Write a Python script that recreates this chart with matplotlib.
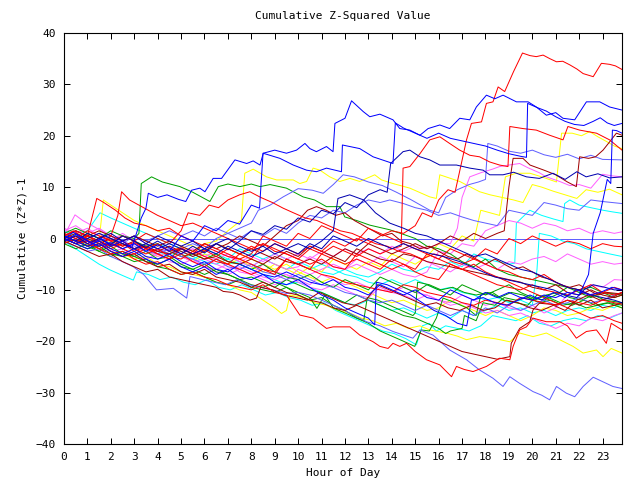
import matplotlib
matplotlib.use("Agg")
import matplotlib.pyplot as plt

# colours
RED = "#ff0000"
DRED = "#a00000"
GREEN = "#00a000"
BLUE = "#0000ff"
NAVY = "#0000b0"
SLATE = "#6060ff"
MAG = "#ff60ff"
CYAN = "#00ffff"
YEL = "#ffff00"

X_TICKS = list(range(0, 24))
Y_TICKS = list(range(-40, 41, 10))

# each series: (hour, cumulative value) vertices
red_top = [(0, 0.5), (0.4, 1.5), (0.8, 0.3), (1.2, -0.8), (1.6, 0.5), (2.0, -0.5), (2.5, -1.5), (3.0, -0.8),
           (3.5, -2.0), (4.0, -1.0), (4.5, -2.5), (5.0, -1.8), (5.5, -3.0), (6.0, -2.2), (6.5, -3.5), (7.0, -2.0),
           (7.5, -3.0), (8.0, -1.5), (8.5, -2.5), (9.0, -1.0), (9.5, -2.0), (10.0, -3.0), (10.5, -1.5), (11.0, -2.5),
           (11.5, -0.5), (12.0, -1.5), (12.5, 0.0), (13.0, -1.0), (13.5, 0.5), (14.0, 1.5), (14.5, 1.0), (15.0, 2.5),
           (15.3, 5.0), (15.7, 4.2), (16.0, 7.5), (16.4, 9.5), (16.7, 9.0), (16.97, 14.6), (17.19, 19.2), (17.4, 22.4),
           (17.83, 22.7), (18.04, 26.3), (18.32, 26.6), (18.54, 29.5), (18.82, 28.6), (19.2, 32.5), (19.58, 36.1),
           (19.9, 35.6), (20.17, 35.4), (20.46, 35.7), (20.75, 35.0), (21.03, 34.4), (21.3, 34.5), (21.6, 33.8),
           (21.9, 33.0), (22.17, 32.1), (22.6, 31.5), (22.95, 34.1), (23.3, 33.9), (23.55, 33.6), (23.83, 32.9)]
blue_top = [(0, 0.0), (0.4, 1.2), (0.8, 0.2), (1.2, -1.0), (1.6, 0.0), (2.0, -1.5), (2.5, -0.5), (2.9, -1.8),
            (3.3, 4.0), (3.5, 5.9), (3.6, 8.8), (4.0, 8.0), (4.4, 8.5), (4.9, 7.6), (5.2, 7.2), (5.45, 9.4),
            (5.8, 9.8), (6.02, 9.1), (6.37, 11.7), (6.73, 11.7), (7.3, 15.3), (7.8, 14.6), (8.08, 15.1), (8.37, 14.3),
            (8.51, 16.6), (9.0, 17.2), (9.5, 16.6), (9.93, 17.2), (10.29, 18.5), (10.5, 17.5), (10.78, 16.9),
            (11.21, 17.9), (11.49, 16.9), (11.57, 22.4), (12.0, 23.4), (12.28, 26.8), (12.78, 24.7), (13.06, 23.7),
            (13.49, 24.2), (14.05, 23.1), (14.34, 21.4), (14.77, 21.1), (15.2, 20.1), (15.55, 21.4), (16.05, 22.1),
            (16.47, 21.4), (16.9, 23.4), (17.33, 23.1), (17.61, 25.6), (18.04, 27.9), (18.4, 27.2), (18.75, 27.9),
            (19.32, 26.6), (19.82, 26.6), (20.17, 25.6), (20.6, 24.0), (21.0, 24.5), (21.31, 23.4), (21.81, 23.1),
            (22.31, 26.6), (22.88, 26.6), (23.3, 25.6), (23.83, 25.0)]
blue_2 = [(0, -0.5), (0.5, 0.8), (1.0, -0.5), (1.5, -1.5), (2.0, -0.8), (2.5, -2.0), (3.0, -1.0), (3.5, -2.5),
          (4.0, -1.2), (4.5, -2.5), (5.0, 0.5), (5.5, -0.5), (6.0, 2.5), (6.5, 1.5), (7.0, 3.5), (7.5, 2.8),
          (8.0, 6.5), (8.35, 5.9), (8.5, 16.6), (8.79, 16.2), (9.22, 15.6), (9.79, 14.3), (10.36, 13.3),
          (10.78, 13.0), (11.21, 13.7), (11.85, 13.0), (11.89, 18.2), (12.63, 17.5), (13.2, 15.9), (14.05, 14.6),
          (14.15, 22.5), (14.5, 21.5), (15.0, 20.5), (15.5, 19.5), (16.0, 20.5), (16.5, 19.5), (17.0, 19.0),
          (17.5, 18.5), (18.0, 18.0), (18.5, 17.2), (19.0, 16.5), (19.5, 16.0), (19.75, 15.8), (19.8, 26.3),
          (20.2, 25.5), (20.6, 24.8), (21.0, 23.7), (21.4, 22.8), (21.8, 22.2), (22.2, 22.0), (22.6, 22.8),
          (22.9, 23.5), (23.2, 22.5), (23.5, 22.0), (23.83, 22.4)]
navy_1 = [(0, 0.5), (0.5, -0.5), (1.0, 1.0), (1.5, 0.0), (2.0, -1.2), (2.5, 0.5), (3.0, -0.5), (3.5, -1.8),
          (4.0, -0.5), (4.5, -1.8), (5.0, -3.0), (5.5, -1.5), (6.0, -2.8), (6.5, -1.0), (7.0, -2.2), (7.5, -0.5),
          (8.0, 1.5), (8.5, 0.8), (9.0, 2.5), (9.5, 1.8), (10.0, 4.0), (10.5, 3.2), (11.0, 5.5), (11.5, 4.8),
          (12.0, 7.0), (12.5, 6.0), (13.0, 8.5), (13.5, 9.5), (13.8, 9.0), (13.95, 14.6), (14.48, 16.9),
          (14.77, 17.2), (15.2, 15.9), (15.62, 15.3), (16.05, 14.3), (16.76, 14.3), (17.33, 13.7), (17.9, 13.3),
          (18.18, 12.4), (18.75, 12.4), (19.2, 12.9), (19.75, 12.0), (20.3, 11.7), (20.88, 12.7), (21.4, 11.5),
          (21.9, 13.0), (22.3, 12.0), (22.8, 12.6), (23.3, 11.8), (23.83, 12.0)]
navy_2 = [(0, 0.0), (0.5, -1.0), (1.0, 0.0), (1.5, 1.0), (2.0, 0.0), (2.5, -1.0), (3.0, -2.0), (3.5, -1.0),
          (4.0, -2.0), (4.5, -1.0), (5.0, -2.0), (5.5, -3.0), (6.0, -2.0), (6.5, -3.0), (7.0, -1.5), (7.5, -2.5),
          (8.0, -3.5), (8.5, -2.5), (9.0, -1.0), (9.5, -2.0), (10.0, -1.0), (10.5, -2.0), (11.0, -0.5), (11.5, 1.5),
          (11.7, 7.8), (12.2, 8.5), (12.8, 7.5), (13.3, 5.0), (13.91, 3.0), (14.5, 2.0), (15.0, 1.0), (15.5, 0.5),
          (16.0, -0.5), (16.5, -1.5), (17.0, -2.5), (17.5, -3.5), (18.0, -3.0), (18.5, -4.0), (19.0, -5.0),
          (19.5, -6.0), (20.0, -6.5), (20.5, -7.5), (21.0, -8.5), (21.5, -9.5), (22.0, -10.0), (22.5, -11.0),
          (23.0, -11.5), (23.5, -12.0), (23.83, -12.5)]
navy_3 = [(0, -0.5), (0.5, 0.5), (1.0, -1.0), (1.5, 0.0), (2.0, 1.0), (2.5, -0.5), (3.0, 0.5), (3.5, -1.0),
          (4.0, 0.5), (4.5, -0.5), (5.0, -1.5), (5.5, -0.5), (6.0, -2.0), (6.5, -1.0), (7.0, 0.0), (7.5, -1.5),
          (8.0, -2.5), (8.5, -1.5), (9.0, -3.0), (9.5, -2.0), (10.0, -3.0), (10.5, -1.0), (11.0, -2.0), (11.5, 0.5),
          (12.0, -0.5), (12.5, -1.5), (13.0, 0.0), (13.5, -1.0), (14.0, -2.0), (14.5, -1.0), (15.0, -2.0),
          (15.62, -2.9), (16.2, -3.5), (16.9, -4.5), (17.4, -5.5), (17.9, -6.5), (18.4, -7.5), (18.9, -8.0),
          (19.4, -8.5), (19.9, -9.0), (20.4, -9.5), (20.9, -10.0), (21.4, -11.0), (21.9, -11.5), (22.2, -10.0),
          (22.6, -9.0), (23.1, -9.5), (23.5, -10.0), (23.83, -10.0)]
blue_low = [(0, 0.0), (0.5, -1.0), (1.0, -2.0), (1.5, -1.0), (2.0, -2.5), (2.5, -3.5), (3.0, -2.5), (3.5, -4.0),
            (4.0, -5.0), (4.5, -4.0), (5.0, -5.5), (5.5, -6.5), (6.0, -5.5), (6.5, -7.0), (7.0, -6.0), (7.5, -7.5),
            (8.0, -8.0), (8.5, -7.0), (9.0, -8.5), (9.5, -9.0), (10.0, -8.0), (10.5, -9.5), (11.0, -11.0),
            (11.5, -12.0), (12.0, -13.5), (12.5, -14.5), (13.0, -15.5), (13.27, -16.8), (13.34, -8.5),
            (13.8, -9.0), (14.3, -10.0), (14.8, -11.0), (15.3, -12.5), (15.8, -14.0), (16.3, -15.0), (16.8, -16.5),
            (17.2, -17.0), (17.4, -12.0), (17.9, -11.5), (18.4, -12.5), (18.9, -13.0), (19.4, -12.0), (19.9, -11.0),
            (20.4, -12.0), (20.9, -10.5), (21.4, -11.5), (21.9, -10.0), (22.4, -11.0), (22.9, -10.5), (23.4, -9.5),
            (23.83, -10.0)]
blue_jump = [(0, 0.5), (0.5, -0.5), (1.0, -1.5), (1.5, -0.5), (2.0, -2.0), (2.5, -3.0), (3.0, -2.0), (3.5, -3.5),
             (4.0, -4.0), (4.5, -3.0), (5.0, -4.5), (5.5, -5.5), (6.0, -4.5), (6.5, -6.0), (7.0, -6.5), (7.5, -5.0),
             (8.0, -6.0), (8.5, -7.0), (9.0, -7.5), (9.5, -6.5), (10.0, -7.5), (10.5, -8.5), (11.0, -9.0),
             (11.5, -8.0), (12.0, -9.5), (12.5, -10.0), (13.0, -11.0), (13.5, -9.0), (14.0, -10.0), (14.5, -11.0),
             (15.0, -10.0), (15.5, -11.5), (16.0, -12.0), (16.5, -10.0), (17.0, -11.0), (17.5, -12.0), (18.0, -10.5),
             (18.5, -11.5), (19.0, -10.5), (19.5, -11.5), (20.0, -12.0), (20.5, -11.0), (21.0, -11.5), (21.5, -10.5),
             (22.0, -11.0), (22.4, -7.0), (22.6, 1.0), (22.9, 5.0), (23.2, 11.5), (23.35, 10.7), (23.42, 21.1),
             (23.6, 21.0), (23.83, 20.5)]
red_b = [(0, 0.0), (0.5, -1.0), (1.0, 0.5), (1.5, -0.5), (2.0, -1.5), (2.5, -0.5), (3.0, -2.0), (3.5, -3.0),
         (4.0, -2.0), (4.5, -3.5), (5.0, -4.0), (5.5, -2.5), (6.0, -3.5), (6.5, -4.5), (7.0, -5.0), (7.5, -3.0),
         (8.0, -4.0), (8.5, -1.0), (9.0, -2.0), (9.5, -3.0), (10.0, -4.0), (10.5, -2.0), (11.0, -3.0), (11.5, -1.5),
         (12.0, -2.5), (12.5, -3.5), (13.0, -2.0), (13.5, -3.0), (14.0, -2.0), (14.4, -1.5), (14.48, 13.7),
         (14.77, 14.0), (15.2, 16.5), (15.62, 19.2), (16.05, 19.8), (16.47, 18.5), (16.9, 17.2), (17.33, 16.2),
         (17.75, 15.9), (18.18, 14.9), (18.6, 14.3), (18.96, 14.0), (19.04, 21.8), (19.6, 21.4), (20.17, 21.1),
         (20.74, 20.1), (21.31, 19.2), (21.52, 21.8), (22.02, 21.1), (22.74, 20.5), (23.3, 19.2), (23.83, 17.2)]
red_early1 = [(0, 0.5), (0.5, 1.5), (1.0, 0.5), (1.4, 7.8), (1.7, 7.0), (2.2, 5.5), (2.6, 4.0), (3.0, 3.0),
              (3.5, 2.5), (4.0, 1.5), (4.5, 2.0), (5.0, 0.5), (5.5, -0.5), (6.0, -1.5), (6.5, -2.5), (7.0, -3.5),
              (7.5, -4.0), (8.0, -5.0), (8.5, -6.0), (9.0, -6.5), (9.5, -4.0), (10.0, -5.0), (10.5, -6.0),
              (11.0, -7.0), (11.5, -7.5), (12.0, -8.5), (12.5, -9.0), (13.0, -9.5), (13.5, -10.0), (14.0, -10.5),
              (14.5, -9.0), (15.0, -9.5), (15.5, -10.5), (16.0, -11.0), (16.5, -11.5), (17.0, -12.5), (17.5, -13.0),
              (18.0, -12.0), (18.5, -12.5), (19.0, -13.0), (19.5, -11.5), (20.0, -12.0), (20.5, -12.5), (21.0, -13.0),
              (21.5, -12.0), (22.0, -12.5), (22.5, -13.0), (23.0, -12.0), (23.5, -12.5), (23.83, -12.8)]
red_early2 = [(0, -0.5), (0.5, 0.5), (1.0, -0.5), (1.5, -1.5), (2.0, 0.5), (2.3, 4.5), (2.46, 9.1), (2.8, 7.5),
              (3.2, 6.5), (3.6, 5.5), (4.0, 4.5), (4.5, 3.5), (5.0, 2.5), (5.5, 3.0), (6.0, 2.0), (6.5, 1.0),
              (7.0, 0.0), (7.5, -1.0), (8.0, -2.0), (8.5, -1.0), (9.0, -2.5), (9.5, -3.0), (10.0, -4.0), (10.5, -5.0),
              (11.0, -4.0), (11.5, -5.5), (12.0, -6.0), (12.5, -3.0), (13.0, -4.0), (13.5, -5.0), (14.0, -6.0),
              (14.5, -5.0), (15.0, -6.5), (15.5, -7.5), (16.0, -8.0), (16.5, -5.0), (17.0, -6.0), (17.5, -7.0),
              (18.0, -8.0), (18.5, -9.0), (19.0, -9.5), (19.5, -10.0), (20.0, -9.0), (20.5, -10.0), (21.0, -10.5),
              (21.5, -11.0), (22.0, -10.0), (22.5, -11.0), (23.0, -10.5), (23.5, -9.5), (23.83, -10.0)]
red_mid = [(0, 1.0), (0.5, 0.0), (1.0, 1.5), (1.5, 0.5), (2.0, -0.5), (2.5, 0.5), (3.0, -0.5), (3.5, 1.0),
           (4.0, 0.0), (4.5, -1.0), (5.0, 1.5), (5.3, 5.0), (5.8, 4.5), (6.2, 6.5), (6.6, 6.0), (7.0, 7.5),
           (7.5, 8.5), (7.94, 9.1), (8.4, 8.0), (8.9, 7.0), (9.36, 5.9), (9.8, 5.0), (10.3, 4.0), (10.8, 3.5),
           (11.3, 2.5), (11.8, 1.5), (12.3, 1.0), (12.8, 0.0), (13.3, -1.0), (13.8, -1.5), (14.3, -2.5), (14.8, -3.0),
           (15.3, -4.0), (15.8, -3.0), (16.2, -3.5), (16.6, -4.5), (17.0, -5.0), (17.5, -4.0), (18.0, -5.0),
           (18.5, -6.0), (19.0, -6.5), (19.5, -7.5), (20.0, -8.0), (20.5, -7.0), (21.0, -8.5), (21.5, -9.5),
           (22.0, -10.0), (22.5, -9.0), (23.0, -10.5), (23.5, -11.0), (23.83, -10.5)]
red_x = [(0, 0.5), (0.5, -0.5), (1.0, 0.5), (1.5, -1.0), (2.0, -2.0), (2.5, -1.0), (3.0, -2.5), (3.5, -1.5),
         (4.0, -3.0), (4.5, -4.0), (5.0, -3.0), (5.5, -4.5), (6.0, -5.5), (6.5, -4.0), (7.0, -5.0), (7.5, -6.0),
         (8.0, -7.0), (8.5, -6.0), (9.0, -7.0), (9.5, -4.0), (10.0, -5.0), (10.5, -6.0), (11.0, -3.0), (11.5, -4.0),
         (12.0, -5.0), (12.5, -4.0), (13.0, -5.0), (13.5, -6.0), (14.0, -4.0), (14.5, -5.0), (15.0, -6.0),
         (15.5, -3.0), (16.0, -4.0), (16.5, -2.0), (17.0, -3.0), (17.5, -4.0), (18.0, -2.0), (18.5, -3.0),
         (19.0, 0.0), (19.5, -1.0), (20.0, 0.5), (20.5, -0.5), (21.0, -1.5), (21.5, -0.5), (22.0, -1.0),
         (22.5, -2.0), (23.0, -1.0), (23.5, -1.5), (23.83, -1.6)]
red_9 = [(0, -1.0), (0.5, 0.0), (1.0, -1.0), (1.5, -2.0), (2.0, -1.0), (2.5, -2.0), (3.0, -3.0), (3.5, -2.0),
         (4.0, -3.0), (4.5, -4.0), (5.0, -2.0), (5.5, -3.0), (6.0, -1.0), (6.5, -2.0), (7.0, -3.0), (7.5, -4.0),
         (8.0, -3.0), (8.5, 0.5), (9.0, -0.5), (9.5, -1.5), (10.0, 1.0), (10.5, 0.0), (11.0, 2.5), (11.5, 1.5),
         (12.0, 0.5), (12.5, -0.5), (13.0, 2.0), (13.5, 1.0), (14.0, 0.0), (14.5, -1.0), (15.0, -2.0), (15.5, -3.0),
         (16.0, -4.0), (16.5, -5.0), (17.0, -6.0), (17.5, -5.0), (18.0, -6.5), (18.5, -7.5), (19.0, -8.5),
         (19.5, -9.5), (20.0, -10.5), (20.5, -11.5), (21.0, -12.5), (21.5, -13.5), (22.0, -14.5), (22.5, -15.5),
         (23.0, -15.0), (23.5, -16.0), (23.83, -16.5)]
red_low = [(0, 0.0), (0.5, -1.0), (1.0, -0.5), (1.5, -2.0), (2.0, -3.0), (2.5, -2.5), (3.0, -4.0), (3.5, -5.0),
           (4.0, -4.5), (4.5, -6.0), (5.0, -7.0), (5.5, -6.5), (6.0, -7.5), (6.5, -8.0), (7.0, -9.0), (7.5, -9.5),
           (8.0, -10.0), (8.5, -9.0), (9.0, -10.5), (9.5, -11.0), (10.07, -14.9), (10.64, -15.5), (11.21, -17.5),
           (11.49, -17.2), (12.21, -17.2), (12.63, -18.8), (13.2, -20.1), (13.49, -21.0), (13.84, -21.4),
           (14.05, -20.4), (14.34, -21.0), (14.63, -20.4), (15.0, -22.0), (15.48, -23.6), (16.05, -24.6),
           (16.55, -26.9), (16.76, -24.9), (17.1, -25.5), (17.47, -25.9), (18.04, -24.9), (18.6, -23.3),
           (19.04, -23.6), (19.18, -21.0), (19.46, -17.8), (19.75, -17.2), (20.03, -15.5), (20.6, -16.2),
           (21.17, -16.2), (21.5, -17.0), (21.88, -19.4), (22.31, -18.1), (22.74, -17.8), (23.16, -20.4),
           (23.37, -16.5), (23.83, -17.8)]
dred_rise = [(0, 0.5), (0.5, -0.5), (1.0, -1.5), (1.5, -1.0), (2.0, -2.5), (2.5, -3.5), (3.0, -3.0), (3.5, -4.5),
             (4.0, -5.5), (4.5, -5.0), (5.0, -6.5), (5.5, -7.0), (6.0, -6.0), (6.5, -7.5), (7.0, -8.0), (7.5, -8.5),
             (8.0, -9.5), (8.5, -8.5), (9.0, -9.5), (9.5, -10.5), (10.0, -11.0), (10.5, -12.0), (11.0, -12.5),
             (11.5, -13.5), (12.0, -14.0), (12.5, -13.0), (13.0, -14.0), (13.5, -15.0), (14.0, -16.0),
             (14.5, -17.0), (15.0, -18.0), (15.5, -19.0), (16.0, -20.0), (16.5, -21.0), (17.0, -22.0),
             (17.5, -22.5), (18.0, -23.0), (18.5, -23.5), (19.04, -23.0), (19.1, -20.4), (19.46, -17.5),
             (19.89, -16.2), (20.03, -13.9), (20.3, -12.6), (21.03, -12.9), (21.5, -12.0), (22.0, -13.0),
             (22.5, -12.0), (23.0, -13.5), (23.5, -13.0), (23.83, -12.5)]
dred_top = [(0, 0.0), (0.5, 1.0), (1.0, 0.0), (1.5, -1.0), (2.0, 0.0), (2.5, -1.5), (3.0, -0.5), (3.5, -2.0),
            (4.0, -2.5), (4.5, -1.5), (5.0, -2.5), (5.5, -3.5), (6.0, -2.5), (6.5, -1.0), (7.0, -2.0), (7.5, -3.0),
            (8.0, -2.0), (8.5, -3.0), (9.0, -4.0), (9.5, -2.5), (10.0, -3.5), (10.5, -1.5), (11.0, -2.5),
            (11.5, -3.5), (12.0, -2.0), (12.5, -3.0), (13.0, -1.0), (13.5, -2.0), (14.0, -3.0), (14.5, -2.0),
            (15.0, -1.0), (15.5, -2.0), (16.0, -1.0), (16.5, 0.5), (17.0, -0.5), (17.5, 1.0), (18.0, 0.0),
            (18.5, 1.0), (18.8, 1.5), (19.0, 10.0), (19.18, 15.6), (19.6, 15.6), (19.9, 14.3), (20.5, 13.3),
            (21.0, 12.4), (21.5, 11.0), (21.88, 10.1), (22.02, 15.9), (22.4, 15.6), (22.7, 15.9), (23.02, 17.2),
            (23.3, 18.8), (23.59, 20.5), (23.83, 20.1)]
dred_low = [(0, -0.5), (0.5, -1.5), (1.0, -2.5), (1.5, -3.5), (2.0, -3.0), (2.5, -4.5), (3.0, -5.5), (3.5, -6.5),
            (4.0, -6.0), (4.5, -7.5), (5.0, -8.0), (5.5, -8.5), (6.0, -9.0), (6.5, -9.5), (6.8, -10.3), (7.2, -10.5),
            (7.51, -11.0), (7.94, -12.0), (8.22, -11.6), (8.4, -9.5), (8.9, -10.0), (9.4, -11.0), (9.9, -11.5),
            (10.4, -12.0), (10.9, -10.5), (11.4, -11.5), (11.9, -12.5), (12.4, -13.0), (12.9, -12.0), (13.4, -9.0),
            (13.9, -10.0), (14.4, -11.0), (14.9, -12.0), (15.4, -13.0), (15.9, -12.5), (16.4, -13.5), (16.9, -14.0),
            (17.4, -13.0), (17.9, -14.0), (18.4, -13.5), (18.9, -12.0), (19.4, -12.5), (19.9, -13.5), (20.4, -14.0),
            (20.9, -13.0), (21.4, -14.0), (21.9, -12.0), (22.4, -11.0), (22.9, -12.0), (23.4, -11.5), (23.83, -10.5)]
dred_mid = [(0, 0.5), (0.5, 1.5), (1.0, 0.5), (1.5, -0.5), (2.0, -1.5), (2.5, -1.0), (3.0, -2.0), (3.5, -1.5),
            (4.0, -2.5), (4.5, -3.0), (5.0, -2.0), (5.5, -3.0), (6.0, -4.0), (6.5, -3.5), (7.0, -4.5), (7.5, -5.0),
            (8.0, -4.0), (8.5, -5.0), (9.0, -3.5), (9.5, -4.5), (10.0, -5.0), (10.5, -4.0), (11.0, -5.0), (11.5, -3.5),
            (12.0, -4.5), (12.5, -2.0), (13.0, -3.0), (13.5, -4.0), (14.0, -4.5), (14.5, -3.0), (15.0, -3.5),
            (15.5, -4.5), (16.0, -5.0), (16.5, -5.5), (17.0, -6.0), (17.5, -6.5), (18.0, -7.0), (18.5, -7.5),
            (19.0, -8.0), (19.5, -8.5), (20.0, -9.5), (20.5, -10.0), (21.0, -9.0), (21.5, -10.5), (22.0, -11.0),
            (22.5, -10.0), (23.0, -11.0), (23.5, -11.5), (23.83, -11.0)]
dred_hump = [(0, 0.0), (0.5, -0.5), (1.0, 0.5), (1.5, 1.5), (2.0, 0.5), (2.5, -0.5), (3.0, 0.5), (3.5, -0.5),
             (4.0, -1.5), (4.5, -0.5), (5.0, -1.5), (5.5, -2.5), (6.0, -1.0), (6.5, -2.0), (7.0, -1.0), (7.5, 0.5),
             (8.0, -0.5), (8.5, -1.5), (9.0, 0.5), (9.5, 2.5), (10.0, 3.5), (10.4, 5.5), (10.78, 6.2), (11.2, 5.5),
             (11.6, 4.5), (12.0, 5.0), (12.4, 3.5), (12.8, 2.5), (13.2, 1.5), (13.6, 0.5), (14.0, 1.0), (14.4, -0.5),
             (14.8, -1.0), (15.2, -2.0), (15.6, -1.5), (16.0, -2.5), (16.4, -3.5), (16.8, -4.0), (17.2, -3.0),
             (17.6, -4.0), (18.0, -5.0), (18.4, -4.0), (18.8, -5.0), (19.2, -6.0), (19.6, -5.5), (20.0, -6.5),
             (20.4, -7.5), (20.8, -8.0), (21.2, -9.0), (21.6, -9.5), (22.0, -9.0), (22.4, -10.0), (22.8, -11.0),
             (23.2, -10.5), (23.83, -10.8)]
green_top = [(0, 0.5), (0.5, -0.5), (1.0, 1.0), (1.5, 0.0), (2.0, -1.0), (2.5, 0.5), (3.0, 0.0), (3.2, 1.0),
             (3.3, 10.7), (3.74, 12.0), (4.2, 11.0), (4.95, 10.1), (5.5, 9.0), (6.23, 7.2), (6.59, 10.1), (7.0, 10.6),
             (7.51, 10.1), (8.0, 10.6), (8.37, 10.1), (8.8, 10.5), (9.5, 9.8), (10.21, 8.1), (10.7, 7.5),
             (11.21, 6.2), (11.78, 6.2), (11.99, 4.2), (12.5, 3.5), (13.06, 2.6), (13.91, 1.7), (14.5, 0.8),
             (15.0, 0.0), (15.5, -1.5), (16.0, -2.0), (16.5, -3.0), (17.0, -4.5), (17.5, -5.5), (18.0, -4.0),
             (18.5, -6.0), (19.0, -7.0), (19.5, -7.5), (20.0, -8.0), (21.0, -9.0), (22.0, -10.0), (22.5, -9.5),
             (23.0, -10.5), (23.83, -11.0)]
green_low = [(0, 0.0), (0.5, -1.0), (1.0, -2.0), (1.5, -1.5), (2.0, -3.0), (2.5, -3.5), (3.0, -4.5), (3.5, -4.0),
             (4.0, -5.5), (4.5, -6.0), (5.0, -7.0), (5.5, -6.5), (6.0, -7.5), (6.5, -8.5), (7.0, -9.0), (7.5, -8.0),
             (8.0, -9.5), (8.5, -10.0), (9.0, -10.5), (9.5, -9.5), (10.0, -11.0), (10.5, -12.0), (11.0, -11.5),
             (11.5, -13.0), (12.0, -14.0), (12.5, -15.5), (13.0, -16.5), (13.5, -18.0), (14.0, -19.0),
             (14.5, -20.0), (14.98, -21.0), (15.26, -17.8), (15.6, -18.0), (15.9, -15.5), (16.19, -11.6),
             (16.7, -12.5), (17.2, -13.5), (17.6, -15.0), (17.8, -11.0), (18.3, -10.5), (18.8, -12.0), (19.3, -12.5),
             (19.8, -13.0), (20.2, -11.0), (20.7, -11.5), (21.2, -12.5), (21.7, -13.0), (22.2, -12.0), (22.7, -13.0),
             (23.2, -12.5), (23.83, -13.5)]
green_2 = [(0, -1.0), (0.5, 0.0), (1.0, -1.5), (1.5, -2.5), (2.0, -1.5), (2.5, -3.0), (3.0, -3.5), (3.5, -2.5),
           (4.0, -4.0), (4.5, -3.5), (5.0, -5.0), (5.5, -6.0), (6.0, -5.0), (6.5, -6.5), (7.0, -7.0), (7.5, -8.0),
           (8.0, -7.5), (8.5, -8.5), (9.0, -9.5), (9.5, -8.0), (10.0, -9.0), (10.5, -10.0), (11.0, -10.5),
           (11.5, -11.5), (12.0, -12.5), (12.5, -11.0), (13.0, -12.0), (13.5, -13.0), (14.0, -14.0), (14.5, -15.0),
           (15.0, -15.5), (15.5, -16.5), (16.0, -17.5), (16.3, -18.5), (16.5, -18.0), (17.0, -17.5), (17.1, -15.0),
           (17.6, -16.0), (17.9, -12.5), (18.4, -13.0), (18.8, -11.5), (19.3, -12.0), (19.8, -11.5), (20.3, -12.5),
           (20.8, -12.0), (21.3, -13.0), (21.8, -12.5), (22.3, -13.5), (22.8, -13.0), (23.3, -12.5), (23.83, -13.0)]
green_3 = [(0, 1.0), (0.5, 2.0), (1.0, 1.0), (1.5, 0.0), (2.0, 1.5), (2.5, 0.5), (3.0, -0.5), (3.5, -1.5),
           (4.0, -1.0), (4.5, -2.5), (5.0, -3.5), (5.5, -3.0), (6.0, -4.0), (6.5, -3.0), (7.0, -4.5), (7.5, -5.0),
           (8.0, -6.0), (8.5, -5.0), (9.0, -6.5), (9.5, -7.5), (10.0, -8.0), (10.5, -7.0), (11.0, -8.5), (11.5, -9.5),
           (12.0, -8.0), (12.5, -9.0), (13.0, -10.0), (13.5, -7.5), (14.0, -8.5), (14.5, -9.5), (15.0, -10.5),
           (15.5, -9.0), (16.0, -10.0), (16.5, -11.0), (17.0, -9.0), (17.5, -10.0), (18.0, -11.0), (18.5, -10.0),
           (19.0, -9.0), (19.5, -10.5), (20.0, -11.5), (20.5, -12.0), (21.0, -11.0), (21.5, -9.5), (22.0, -10.5),
           (22.5, -11.5), (23.0, -10.5), (23.5, -11.5), (23.83, -11.0)]
green_4 = [(0, -1.0), (0.5, -2.0), (1.0, -1.0), (1.5, -2.5), (2.0, -3.5), (2.5, -2.5), (3.0, -3.5), (3.5, -4.5),
           (4.0, -5.0), (4.5, -4.0), (5.0, -5.5), (5.5, -6.0), (6.0, -7.0), (6.5, -6.0), (7.0, -7.0), (7.5, -8.0),
           (8.0, -9.0), (8.5, -9.5), (9.0, -8.5), (9.5, -9.5), (10.0, -10.5), (10.5, -11.5), (10.8, -13.6),
           (11.14, -11.0), (11.5, -13.5), (12.0, -14.5), (12.5, -15.5), (12.8, -16.0), (12.95, -11.5), (13.4, -12.0),
           (13.9, -13.0), (14.4, -14.0), (14.9, -15.0), (15.0, -14.5), (15.1, -8.5), (15.6, -9.0), (16.1, -10.0),
           (16.6, -9.5), (17.1, -10.5), (17.6, -11.0), (18.1, -10.5), (18.6, -11.5), (19.1, -10.5), (19.6, -11.0),
           (20.1, -12.0), (20.6, -11.0), (21.1, -10.5), (21.6, -11.5), (22.1, -12.0), (22.6, -11.0), (23.1, -12.0),
           (23.83, -12.5)]
yel_top = [(0, 0.0), (0.5, 1.0), (1.0, 0.0), (1.5, -1.0), (2.0, 0.0), (2.5, -1.0), (3.0, -2.0), (3.5, -1.0),
           (4.0, -2.0), (4.5, -3.0), (5.0, -1.5), (5.5, -2.5), (6.0, -1.0), (6.5, -0.5), (7.0, 1.5), (7.58, 3.6),
           (7.72, 12.7), (8.08, 13.5), (8.65, 12.0), (9.08, 11.4), (9.79, 11.4), (10.07, 10.7), (10.36, 11.1),
           (10.64, 13.7), (10.93, 13.3), (11.35, 12.0), (11.78, 11.1), (12.21, 11.7), (12.63, 11.1), (13.27, 12.4),
           (13.56, 11.4), (14.05, 10.7), (14.77, 9.8), (15.62, 8.1), (15.9, 7.8), (16.05, 12.4), (16.9, 11.1),
           (17.75, 9.1), (18.2, 8.5), (18.7, 8.0), (19.2, 7.5), (19.6, 7.0), (20.0, 10.5), (20.4, 10.0), (20.9, 9.2),
           (21.4, 8.5), (21.9, 7.8), (22.3, 9.5), (22.8, 9.0), (23.3, 9.6), (23.83, 8.5)]
yel_jump = [(0, -0.5), (0.5, 0.5), (1.0, -0.5), (1.5, -1.5), (2.0, -0.5), (2.5, -2.0), (3.0, -1.0), (3.5, -2.5),
            (4.0, -3.5), (4.5, -2.5), (5.0, -3.5), (5.5, -4.5), (6.0, -3.0), (6.5, -4.0), (7.0, -5.0), (7.5, -4.0),
            (8.0, -5.5), (8.5, -6.5), (9.0, -5.0), (9.5, -6.0), (10.0, -7.0), (10.5, -5.5), (11.0, -6.5),
            (11.5, -4.0), (12.0, -5.0), (12.5, -6.0), (13.0, -4.5), (13.5, -5.5), (14.0, -3.0), (14.5, -4.0),
            (15.0, -5.0), (15.5, -3.5), (16.0, -1.0), (16.5, -2.0), (17.0, 0.5), (17.5, -0.5), (17.8, 5.5),
            (18.2, 5.0), (18.6, 4.5), (18.85, 12.0), (19.3, 12.7), (19.9, 12.7), (20.4, 12.0), (21.03, 11.0),
            (21.25, 20.5), (21.7, 20.5), (22.1, 20.0), (22.45, 20.8), (22.8, 19.8), (23.2, 18.8), (23.5, 18.0),
            (23.83, 17.5)]
yel_mid = [(0, 0.0), (0.5, -1.0), (1.0, 0.5), (1.5, -0.5), (1.68, 7.5), (2.0, 6.5), (2.5, 5.0), (3.0, 3.5),
           (3.5, 2.5), (4.0, 1.5), (4.5, 0.5), (5.0, -0.5), (5.5, -1.5), (6.0, -2.5), (6.5, -1.0), (7.0, -2.0),
           (7.5, -3.0), (8.0, -4.0), (8.5, -5.0), (9.0, -6.0), (9.5, -5.0), (10.0, -6.5), (10.5, -7.5), (11.0, -8.5),
           (11.5, -7.5), (12.0, -8.5), (12.5, -9.5), (13.0, -10.5), (13.5, -11.5), (14.0, -12.5), (14.5, -12.0),
           (15.0, -13.0), (15.5, -14.0), (16.0, -13.5), (16.5, -12.0), (17.0, -13.0), (17.5, -14.0), (18.0, -15.0),
           (18.5, -14.0), (19.0, -15.0), (19.5, -16.0), (20.0, -15.0), (20.5, -13.5), (21.0, -14.0), (21.5, -15.0),
           (22.0, -14.5), (22.5, -13.5), (23.0, -14.0), (23.5, -13.0), (23.83, -13.5)]
yel_low = [(0, 0.5), (0.5, -0.5), (1.0, -1.5), (1.5, -1.0), (2.0, -2.5), (2.5, -3.0), (3.0, -4.0), (3.5, -3.5),
           (4.0, -5.0), (4.5, -5.5), (5.0, -6.5), (5.5, -7.0), (6.0, -7.5), (6.5, -8.5), (7.0, -9.0), (7.5, -10.0),
           (8.0, -10.5), (8.5, -12.0), (9.0, -13.5), (9.29, -14.6), (9.5, -14.0), (9.65, -11.0), (10.2, -11.5),
           (10.7, -12.5), (11.2, -13.0), (11.7, -14.0), (12.2, -14.5), (12.7, -15.5), (13.2, -16.0), (13.7, -17.0),
           (14.2, -16.5), (14.7, -17.5), (15.2, -17.0), (15.62, -17.8), (16.33, -18.4), (16.8, -19.0),
           (17.19, -19.7), (17.75, -19.1), (18.4, -19.5), (19.04, -20.1), (19.46, -18.4), (20.03, -19.1),
           (20.6, -18.4), (21.17, -19.7), (21.74, -21.0), (22.17, -22.3), (22.74, -21.7), (23.02, -23.0),
           (23.37, -21.4), (23.83, -22.3)]
slate_low = [(0, -0.5), (0.5, -1.5), (1.0, -2.5), (1.5, -2.0), (2.0, -3.5), (2.5, -4.5), (2.96, -5.5), (3.4, -7.0),
             (3.95, -10.0), (4.67, -9.7), (5.24, -11.6), (5.38, -7.4), (5.9, -8.0), (6.4, -8.5), (6.9, -9.0),
             (7.4, -8.0), (7.9, -9.0), (8.4, -9.5), (8.9, -10.0), (9.5, -10.7), (10.0, -10.5), (10.5, -11.0),
             (11.0, -12.0), (11.5, -13.0), (11.92, -13.9), (12.4, -15.0), (12.92, -16.2), (13.5, -17.0),
             (14.05, -18.1), (14.5, -18.8), (14.9, -19.4), (15.2, -17.8), (15.76, -18.8), (16.47, -21.7),
             (17.19, -23.6), (17.75, -25.6), (18.32, -27.2), (18.75, -28.8), (19.04, -26.9), (19.46, -28.2),
             (20.03, -29.8), (20.4, -30.5), (20.74, -31.4), (21.03, -28.8), (21.45, -30.1), (21.81, -30.8),
             (22.17, -28.8), (22.6, -27.0), (23.02, -27.9), (23.44, -28.8), (23.83, -29.2)]
slate_up = [(0, 0.5), (0.5, 1.5), (1.0, 0.5), (1.5, -0.5), (2.0, 0.5), (2.5, -1.0), (3.0, -2.0), (3.5, -1.0),
            (4.0, -2.0), (4.5, -3.0), (5.0, -2.0), (5.5, -1.0), (6.0, -2.0), (6.5, 0.0), (7.0, 1.0), (7.5, 2.0),
            (8.0, 3.0), (8.3, 5.5), (8.8, 6.5), (9.36, 8.1), (10.0, 9.7), (10.6, 9.4), (11.07, 8.8), (11.5, 10.5),
            (11.92, 12.4), (12.4, 12.0), (13.0, 11.0), (13.6, 10.3), (14.2, 9.0), (14.8, 7.6), (15.62, 5.5),
            (16.0, 5.0), (16.3, 8.0), (16.8, 9.5), (17.3, 10.5), (17.7, 11.0), (18.0, 11.5), (18.1, 18.5),
            (18.5, 18.0), (19.0, 17.0), (19.5, 16.6), (20.0, 17.2), (20.5, 16.3), (21.0, 15.8), (21.5, 16.4),
            (22.0, 15.5), (22.5, 16.2), (23.0, 15.4), (23.83, 15.3)]
slate_mid = [(0, 0.0), (0.5, -1.0), (1.0, 0.0), (1.5, 1.0), (2.0, 0.0), (2.5, -1.0), (3.0, 0.5), (3.5, -0.5),
             (4.0, 0.5), (4.5, 1.5), (5.0, 0.5), (5.5, 1.5), (6.0, 0.5), (6.5, 2.0), (7.0, 1.0), (7.5, 0.0),
             (8.0, 1.5), (8.5, 0.5), (9.0, 2.0), (9.5, 1.0), (10.0, 3.0), (10.5, 4.5), (11.0, 4.0), (11.5, 5.5),
             (12.0, 5.0), (12.5, 6.5), (13.0, 7.5), (13.5, 7.0), (13.91, 7.5), (14.5, 6.8), (15.0, 6.0), (15.5, 5.5),
             (16.0, 4.5), (16.5, 5.0), (17.0, 4.2), (17.5, 3.5), (18.0, 3.0), (18.5, 2.5), (19.0, 5.5), (19.5, 5.0),
             (20.0, 4.5), (20.5, 7.0), (21.0, 6.5), (21.5, 5.8), (22.0, 5.5), (22.5, 7.5), (23.0, 7.2),
             (23.83, 6.8)]
slate_3 = [(0, 1.0), (0.5, 0.0), (1.0, -1.0), (1.5, 0.0), (2.0, -1.0), (2.5, -2.0), (3.0, -1.0), (3.5, -2.5),
           (4.0, -3.0), (4.5, -2.0), (5.0, -3.5), (5.5, -4.0), (6.0, -5.0), (6.5, -4.0), (7.0, -5.5), (7.5, -6.0),
           (8.0, -5.0), (8.5, -6.5), (9.0, -7.0), (9.5, -8.0), (10.0, -7.0), (10.5, -8.0), (11.0, -9.0),
           (11.5, -9.5), (12.0, -10.5), (12.5, -11.0), (13.0, -12.0), (13.5, -12.5), (14.0, -12.0), (14.5, -13.0),
           (15.0, -14.0), (15.5, -13.0), (16.0, -14.0), (16.5, -15.0), (17.0, -14.0), (17.5, -15.0), (18.0, -13.5),
           (18.5, -14.5), (19.0, -13.0), (19.5, -14.0), (20.0, -13.0), (20.5, -12.0), (21.0, -13.0), (21.5, -12.5),
           (22.0, -11.5), (22.5, -12.5), (23.0, -12.0), (23.5, -11.0), (23.83, -10.5)]
mag_1 = [(0, 1.0), (0.5, 0.0), (1.0, -1.0), (1.5, 0.0), (2.0, -1.0), (2.5, -2.0), (3.0, -1.0), (3.5, -2.0),
         (4.0, -3.0), (4.5, -2.0), (5.0, -3.0), (5.5, -2.0), (6.0, -3.5), (6.5, -2.5), (7.0, -3.5), (7.5, -4.5),
         (8.0, -3.5), (8.5, -4.5), (9.0, -3.0), (9.5, -4.0), (10.0, -3.0), (10.5, -4.0), (11.0, -2.5), (11.5, -3.5),
         (12.0, -2.0), (12.5, -3.0), (13.0, -2.0), (13.5, -3.0), (14.0, -1.5), (14.5, -2.5), (15.0, -1.5),
         (15.5, -2.0), (16.0, -1.0), (16.5, -1.0), (16.8, 2.0), (17.0, 8.0), (17.33, 12.0), (17.8, 12.8),
         (18.3, 13.5), (18.6, 14.0), (19.0, 14.3), (19.46, 14.6), (19.8, 13.8), (20.3, 12.8), (20.6, 12.0),
         (21.17, 11.1), (21.6, 10.3), (22.0, 10.5), (22.5, 9.8), (23.0, 12.5), (23.4, 12.2), (23.83, 12.0)]
mag_2 = [(0, 1.5), (0.5, 2.5), (1.0, 1.0), (1.5, 2.0), (2.0, 0.5), (2.5, -0.5), (3.0, 0.5), (3.5, -1.0),
         (4.0, -2.0), (4.5, -1.5), (5.0, -3.0), (5.5, -2.0), (6.0, -3.5), (6.5, -4.0), (7.0, -3.0), (7.5, -4.5),
         (8.0, -5.5), (8.5, -4.0), (9.0, -5.0), (9.5, -6.0), (10.0, -5.5), (10.5, -3.5), (11.0, -4.5), (11.5, -5.5),
         (12.0, -6.0), (12.5, -5.0), (13.0, -6.0), (13.5, -7.0), (14.0, -6.0), (14.5, -7.0), (15.0, -7.5),
         (15.5, -6.5), (16.0, -2.5), (16.5, -3.0), (17.0, -1.0), (17.5, -1.5), (18.0, 1.5), (18.5, 2.5),
         (19.0, 3.5), (19.5, 3.0), (20.0, 2.0), (20.5, 3.0), (21.0, 2.5), (21.5, 1.5), (22.0, 2.0), (22.5, 1.0),
         (23.0, 1.5), (23.5, 1.0), (23.83, 1.3)]
mag_3 = [(0, 0.0), (0.5, -1.0), (1.0, -0.5), (1.5, -2.0), (2.0, -2.5), (2.5, -2.0), (3.0, -3.5), (3.5, -4.0),
         (4.0, -3.0), (4.5, -4.5), (5.0, -5.0), (5.5, -4.0), (6.0, -5.5), (6.5, -6.0), (7.0, -5.0), (7.5, -6.5),
         (8.0, -7.0), (8.5, -5.0), (9.0, -6.5), (9.5, -7.0), (10.0, -8.0), (10.5, -9.0), (11.0, -7.0), (11.5, -8.0),
         (12.0, -9.0), (12.5, -8.5), (13.0, -9.5), (13.5, -10.0), (14.0, -10.5), (14.5, -9.5), (15.0, -10.5),
         (15.5, -11.0), (16.0, -12.0), (16.5, -12.5), (17.0, -11.0), (17.5, -12.0), (18.0, -13.0), (18.5, -12.5),
         (19.0, -13.5), (19.5, -14.0), (20.0, -13.0), (20.5, -14.5), (21.0, -13.5), (21.5, -11.0), (22.0, -10.0),
         (22.5, -9.0), (23.0, -9.5), (23.5, -8.0), (23.83, -8.1)]
mag_4 = [(0, 2.0), (0.5, 1.0), (1.0, 2.0), (1.5, 0.5), (2.0, -0.5), (2.5, 1.0), (3.0, -0.5), (3.5, -1.5),
         (4.0, -2.5), (4.5, -2.0), (5.0, -3.5), (5.5, -4.5), (6.0, -4.0), (6.5, -5.0), (7.0, -6.0), (7.5, -5.5),
         (8.0, -6.5), (8.5, -7.5), (9.0, -8.0), (9.5, -7.0), (10.0, -8.5), (10.5, -9.5), (11.0, -10.0),
         (11.5, -9.0), (12.0, -10.0), (12.5, -11.0), (13.0, -11.5), (13.5, -9.5), (14.0, -10.5), (14.5, -11.0),
         (15.0, -12.0), (15.5, -11.0), (16.0, -12.0), (16.5, -13.0), (17.0, -12.5), (17.5, -13.5), (18.0, -14.5),
         (18.5, -14.0), (19.0, -15.0), (19.5, -14.5), (20.0, -15.5), (20.5, -16.5), (21.0, -17.5), (21.5, -16.5),
         (22.0, -17.0), (22.5, -15.5), (23.0, -16.0), (23.5, -15.0), (23.83, -14.5)]
mag_5 = [(0, 0.5), (0.47, 4.6), (0.8, 3.5), (1.2, 2.5), (1.6, 1.5), (2.0, 0.5), (2.5, -0.5), (3.0, -1.5),
         (3.5, -2.5), (4.0, -3.5), (4.5, -2.5), (5.0, -3.5), (5.5, -4.5), (6.0, -5.5), (6.5, -6.5), (7.0, -7.0),
         (7.5, -6.0), (8.0, -7.0), (8.5, -8.0), (9.0, -9.0), (9.5, -8.0), (10.0, -6.0), (10.5, -7.0), (11.0, -6.0),
         (11.5, -5.0), (12.0, -6.0), (12.5, -4.0), (13.0, -5.0), (13.5, -3.5), (14.0, -4.5), (14.5, -5.5),
         (15.0, -3.5), (15.5, -4.5), (16.0, -5.5), (16.5, -6.5), (17.0, -5.0), (17.5, -6.0), (18.0, -5.0),
         (18.5, -6.0), (19.0, -4.5), (19.5, -5.0), (20.0, -4.0), (20.5, -3.5), (21.0, -4.5), (21.5, -3.0),
         (22.0, -4.0), (22.5, -5.0), (23.0, -4.5), (23.5, -5.0), (23.83, -4.8)]
cyan_up = [(0, 0.5), (0.5, 1.5), (1.0, 0.5), (1.5, -0.5), (2.0, -1.5), (2.5, -0.5), (3.0, -1.5), (3.5, -2.5),
           (4.0, -1.0), (4.5, -2.0), (5.0, -3.0), (5.5, -4.0), (6.0, -3.0), (6.5, -4.0), (7.0, -5.0), (7.5, -4.5),
           (8.0, -5.5), (8.5, -4.0), (9.0, -5.0), (9.5, -6.0), (10.0, -4.5), (10.5, -5.5), (11.0, -6.5),
           (11.5, -7.0), (12.0, -6.0), (12.5, -7.0), (13.0, -7.5), (13.5, -6.5), (14.0, -5.0), (14.5, -6.0),
           (15.0, -6.5), (15.5, -5.5), (16.0, -6.0), (16.5, -4.5), (17.0, -5.5), (17.5, -3.0), (18.0, -4.0),
           (18.5, -4.5), (19.0, -5.0), (19.25, -4.8), (19.32, 3.0), (19.89, 5.5), (20.4, 4.5), (20.9, 3.8),
           (21.31, 3.3), (21.38, 6.8), (21.6, 7.5), (22.0, 6.5), (22.5, 6.0), (23.02, 5.5), (23.4, 5.2),
           (23.83, 4.9)]
cyan_low = [(0, -0.5), (0.5, -2.0), (1.0, -3.5), (1.5, -5.0), (1.96, -6.1), (2.5, -7.2), (2.96, -8.1), (3.1, -6.5),
            (3.6, -7.0), (4.1, -8.0), (4.6, -7.5), (5.1, -8.5), (5.6, -9.0), (6.1, -8.0), (6.6, -9.5), (7.1, -10.0),
            (7.6, -9.0), (8.1, -10.0), (8.6, -11.0), (9.1, -10.5), (9.6, -11.5), (10.1, -12.0), (10.6, -13.0),
            (11.1, -12.5), (11.6, -14.0), (12.1, -15.0), (12.6, -16.0), (13.1, -17.0), (13.6, -18.0),
            (14.1, -18.5), (14.6, -19.5), (15.05, -20.7), (15.3, -17.0), (15.6, -16.5), (15.9, -18.0),
            (16.3, -17.0), (16.8, -17.5), (17.3, -18.0), (17.8, -17.0), (18.3, -15.0), (18.8, -15.5), (19.3, -16.0),
            (19.8, -15.0), (20.3, -16.5), (20.8, -17.0), (21.3, -16.0), (21.8, -15.5), (22.3, -16.0), (22.8, -15.0),
            (23.3, -15.5), (23.83, -14.5)]
cyan_2 = [(0, 1.5), (0.5, 0.5), (1.0, 1.5), (1.54, 5.0), (2.0, 4.0), (2.5, 3.0), (3.0, 2.0), (3.5, 1.0),
          (4.0, 0.0), (4.5, -1.0), (5.0, -2.0), (5.5, -3.0), (6.0, -2.0), (6.5, -3.0), (7.0, -4.0), (7.5, -5.0),
          (8.0, -6.0), (8.5, -7.0), (9.0, -8.0), (9.5, -9.0), (10.0, -8.5), (10.5, -9.5), (11.0, -10.5),
          (11.5, -11.5), (12.0, -12.5), (12.5, -13.0), (13.0, -12.0), (13.5, -13.0), (14.0, -14.0), (14.5, -13.5),
          (15.0, -14.5), (15.5, -15.5), (16.0, -14.5), (16.5, -15.5), (17.0, -14.0), (17.5, -15.0), (18.0, -14.0),
          (18.5, -13.0), (19.0, -14.0), (19.5, -13.5), (20.0, -14.5), (20.5, -14.0), (21.0, -15.0), (21.5, -14.0),
          (22.0, -13.5), (22.5, -14.0), (23.0, -13.0), (23.5, -13.5), (23.83, -12.5)]
cyan_3 = [(0, 0.0), (0.5, 1.0), (1.0, 0.0), (1.5, -1.0), (2.0, 0.0), (2.5, -1.0), (3.0, -2.0), (3.5, -1.5),
          (4.0, -2.5), (4.5, -3.5), (5.0, -2.5), (5.5, -3.5), (6.0, -4.5), (6.5, -5.0), (7.0, -4.0), (7.5, -2.0),
          (8.0, -3.0), (8.5, -4.0), (9.0, -3.0), (9.5, -4.0), (10.0, -5.0), (10.5, -6.0), (11.0, -5.0), (11.5, -6.0),
          (12.0, -7.0), (12.5, -7.5), (13.0, -8.5), (13.5, -9.0), (14.0, -8.0), (14.5, -9.0), (15.0, -8.0),
          (15.5, -9.0), (16.0, -10.0), (16.5, -9.5), (17.0, -10.5), (17.5, -11.0), (18.0, -12.0), (18.5, -11.5),
          (19.0, -12.5), (19.5, -12.0), (20.0, -13.0), (20.2, -6.0), (20.3, 1.0), (20.8, 0.5), (21.3, -0.5),
          (21.8, -1.0), (22.3, -2.0), (22.8, -2.5), (23.3, -3.0), (23.83, -3.5)]

SERIES = [
    (cyan_low, CYAN), (cyan_2, CYAN), (cyan_3, CYAN), (cyan_up, CYAN),
    (yel_low, YEL), (yel_mid, YEL), (yel_jump, YEL), (yel_top, YEL),
    (mag_1, MAG), (mag_2, MAG), (mag_3, MAG), (mag_4, MAG), (mag_5, MAG),
    (green_top, GREEN), (green_low, GREEN), (green_2, GREEN), (green_3, GREEN), (green_4, GREEN),
    (slate_low, SLATE), (slate_up, SLATE), (slate_mid, SLATE), (slate_3, SLATE),
    (dred_rise, DRED), (dred_top, DRED), (dred_low, DRED), (dred_mid, DRED), (dred_hump, DRED),
    (red_top, RED), (red_b, RED), (red_early1, RED), (red_early2, RED), (red_mid, RED),
    (red_x, RED), (red_9, RED), (red_low, RED),
    (navy_1, NAVY), (navy_2, NAVY), (navy_3, NAVY),
    (blue_top, BLUE), (blue_2, BLUE), (blue_low, BLUE), (blue_jump, BLUE),
]

FONT = "DejaVu Sans Mono"
LW = 0.72  # one pixel at 100 dpi

fig = plt.figure(figsize=(6.4, 4.8), dpi=100)
ax = fig.add_axes([64 / 640, 1 - 444 / 480, (622 - 64) / 640, (444 - 33) / 480])

ax.axhline(0, color=SLATE, lw=LW)
for pts, color in SERIES:
    hours, values = zip(*pts)
    ax.plot(hours, values, color=color, lw=LW)

ax.set_xlim(0, 23.83)
ax.set_ylim(-40, 40)
ax.set_xticks(X_TICKS)
ax.set_yticks(Y_TICKS)
ax.tick_params(direction="in", length=4, width=0.72, top=True, right=True,
               labelsize=8, pad=6, colors="black")
for label in ax.get_xticklabels() + ax.get_yticklabels():
    label.set_family(FONT)
for spine in ax.spines.values():
    spine.set_linewidth(0.8)

ax.set_title("Cumulative Z-Squared Value", family=FONT, fontsize=8, pad=10)
ax.set_xlabel("Hour of Day", family=FONT, fontsize=8, labelpad=4)
ax.set_ylabel("Cumulative (Z*Z)-1", family=FONT, fontsize=8, labelpad=6)

fig.savefig("out.png", dpi=100)
